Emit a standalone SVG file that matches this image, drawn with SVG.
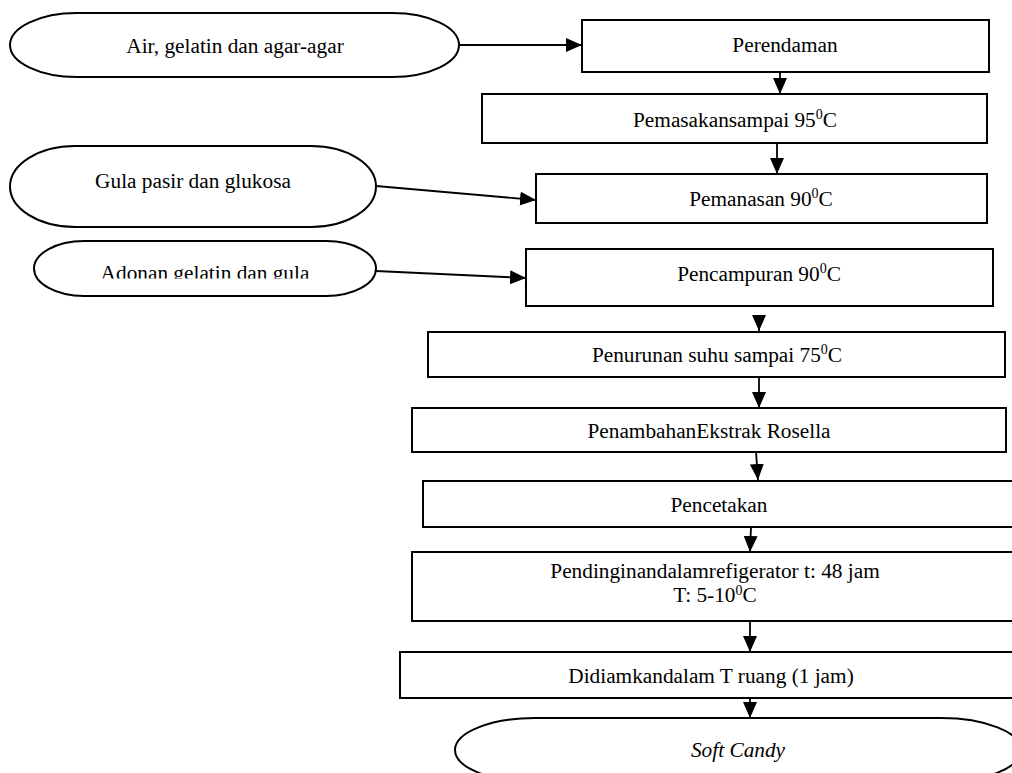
<svg xmlns="http://www.w3.org/2000/svg" width="1012" height="773" viewBox="0 0 1012 773">
<style>
.box{fill:#fff;stroke:#000;stroke-width:2}
.t{font-family:"Liberation Serif","Times New Roman",serif;font-size:21.3px;fill:#000;text-anchor:middle}
.sup{font-size:14px}
.c{stroke:#000;stroke-width:1.8;fill:none;marker-end:url(#ah)}
</style>
<defs>
<marker id="ah" markerUnits="userSpaceOnUse" markerWidth="16" markerHeight="14" refX="16" refY="7" orient="auto">
<path d="M0,0 L16,7 L0,14 Z" fill="#000"/>
</marker>
<clipPath id="clipAdonan"><rect x="0" y="230" width="400" height="48.5"/></clipPath>
</defs>
<rect width="1012" height="773" fill="#fff"/>

<g id="in1"><rect class="box" x="10" y="13" width="449" height="64" rx="67" ry="32"/><text class="t" x="235" y="53">Air, gelatin dan agar-agar</text></g>
<g id="in2"><rect class="box" x="10" y="146" width="366" height="81" rx="65" ry="40.5"/><text class="t" x="193" y="188">Gula pasir dan glukosa</text></g>
<g id="in3"><rect class="box" x="34" y="241" width="342" height="55" rx="50" ry="27.5"/><text class="t" x="205" y="280" clip-path="url(#clipAdonan)">Adonan gelatin dan gula</text></g>

<g id="perendaman"><rect class="box" x="582" y="20" width="407" height="52"/><text class="t" x="785" y="52">Perendaman</text></g>
<g id="pemasakan"><rect class="box" x="482" y="94" width="505" height="49"/><text class="t" x="735" y="127">Pemasakansampai 95<tspan class="sup" dy="-8">0</tspan><tspan dy="8">C</tspan></text></g>
<g id="pemanasan"><rect class="box" x="536" y="174" width="451" height="49"/><text class="t" x="761" y="206">Pemanasan 90<tspan class="sup" dy="-8">0</tspan><tspan dy="8">C</tspan></text></g>
<g id="pencampuran"><rect class="box" x="526" y="249" width="467" height="57"/><text class="t" x="759" y="281">Pencampuran 90<tspan class="sup" dy="-8">0</tspan><tspan dy="8">C</tspan></text></g>
<g id="penurunan"><rect class="box" x="428" y="332" width="577" height="45"/><text class="t" x="717" y="362">Penurunan suhu sampai 75<tspan class="sup" dy="-8">0</tspan><tspan dy="8">C</tspan></text></g>
<g id="penambahan"><rect class="box" x="412" y="408" width="594" height="44"/><text class="t" x="709" y="438">PenambahanEkstrak Rosella</text></g>
<g id="pencetakan"><rect class="box" x="423" y="481" width="595" height="46"/><text class="t" x="719" y="512">Pencetakan</text></g>
<g id="pendinginan"><rect class="box" x="412" y="552" width="610" height="69"/><text class="t" x="715" y="578">Pendinginandalamrefigerator t: 48 jam</text><text class="t" x="715" y="602">T: 5-10<tspan class="sup" dy="-7">0</tspan><tspan dy="7">C</tspan></text></g>
<g id="didiamkan"><rect class="box" x="400" y="652" width="625" height="46"/><text class="t" x="711" y="683">Didiamkandalam T ruang (1 jam)</text></g>
<g id="softcandy"><rect class="box" x="455" y="718" width="566" height="64" rx="80" ry="32"/><text class="t" x="738" y="757" font-style="italic">Soft Candy</text></g>

<g id="connectors">
<line class="c" x1="459" y1="45" x2="582" y2="45"/>
<line class="c" x1="376" y1="186" x2="536" y2="200"/>
<line class="c" x1="376" y1="271" x2="526" y2="278"/>
<line class="c" x1="780" y1="72" x2="780" y2="94"/>
<line class="c" x1="777" y1="143" x2="777" y2="174"/>
<line class="c" x1="759" y1="315" x2="759" y2="331"/>
<line class="c" x1="759" y1="377" x2="759" y2="408"/>
<line class="c" x1="756" y1="452" x2="758" y2="480"/>
<line class="c" x1="751" y1="527" x2="750" y2="552"/>
<line class="c" x1="750" y1="621" x2="750" y2="652"/>
<line class="c" x1="750" y1="698" x2="750" y2="718"/>
</g>
</svg>
